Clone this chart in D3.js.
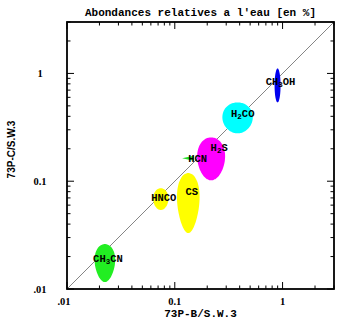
<!DOCTYPE html>
<html><head><meta charset="utf-8">
<script src="https://cdn.jsdelivr.net/npm/d3@7"></script>
<style>body{margin:0;background:#fff}</style>
</head><body>
<script>
// ---- data ----
const species   = ["CH3OH","H2CO","H2S","HCN","CS","HNCO","CH3CN"];
const labels    = [["CH","3","OH"],["H","2","CO"],["H","2","S"],["HCN","",""],["CS","",""],["HNCO","",""],["CH","3","CN"]];
const xLow      = [0.843, 0.272, 0.156, 0.117, 0.100, 0.0625, 0.0174];
const xHigh     = [0.958, 0.538, 0.303, 0.150, 0.178, 0.088, 0.029];
const yLow      = [0.538, 0.278, 0.102, 0.155, 0.033, 0.054, 0.0116];
const yHigh     = [1.11, 0.538, 0.255, 0.172, 0.119, 0.086, 0.0261];
const labelX    = [0.958, 0.427, 0.258, 0.163, 0.144, 0.079, 0.024];
const labelY    = [0.826, 0.417, 0.202, 0.161, 0.079, 0.0697, 0.019];
const colors    = ["#0000ee","#00ffff","#ff00ff","#22dd22","#ffff00","#ffff00","#22ee22"];
const taper     = [0, 0.05, 0.12, 0, 0.22, 0.05, 0.18];
const majorTicks = [0.01, 0.1, 1];
const majorLabels = [".01","0.1","1"];
const domainMin = 0.01, domainMax = 3;
const title = "Abondances relatives a l'eau [en %]";
const xTitle = "73P-B/S.W.3";
const yTitle = "73P-C/S.W.3";

// ---- layout ----
const W = 350, H = 322;
const L = 67, R = 334, T = 22, B = 289;
const svg = d3.select("body").append("svg").attr("width", W).attr("height", H);
const x = d3.scaleLog().domain([domainMin, domainMax]).range([L, R]);
const y = d3.scaleLog().domain([domainMin, domainMax]).range([B, T]);

svg.append("clipPath").attr("id","c").append("rect")
  .attr("x",L).attr("y",T).attr("width",R-L).attr("height",B-T);

// diagonal
svg.append("line").attr("clip-path","url(#c)")
  .attr("x1", x(domainMin)).attr("y1", y(domainMin))
  .attr("x2", x(domainMax)).attr("y2", y(domainMax))
  .attr("stroke","#777").attr("stroke-width",0.9);

// blobs (egg shaped)
const blobs = species.map((s,i)=>({s,i}));
function eggPath(d){
  const i = d.i;
  const x0 = x(xLow[i]), x1 = x(xHigh[i]), y0 = y(yHigh[i]), y1 = y(yLow[i]);
  const cx = (x0+x1)/2, cy = (y0+y1)/2, rx = (x1-x0)/2, ry = (y1-y0)/2;
  const k = taper[i];
  const pts = d3.range(0, 64).map(j=>{
    const t = j/64*2*Math.PI;
    const st = Math.sin(t);
    return [cx + rx*Math.cos(t)*(1 - k*st)/(1+k), cy + ry*st];
  });
  return d3.line().curve(d3.curveCardinalClosed)(pts);
}
svg.append("g").attr("clip-path","url(#c)").selectAll("path").data(blobs.filter(d=>d.s!=="HCN")).join("path")
  .attr("d", eggPath)
  .attr("fill", d=>colors[d.i]);
// HCN wedge
svg.append("g").selectAll("path").data(blobs.filter(d=>d.s==="HCN")).join("path")
  .attr("d", d=>{
    const i=d.i, x0=x(xLow[i]), x1=x(xHigh[i]), y0=y(yHigh[i]), y1=y(yLow[i]);
    const cy=(y0+y1)/2;
    return `M${x0},${cy} L${x1},${y0} L${x1},${y1} Z`;
  }).attr("fill", d=>colors[d.i]);

// labels
const lab = svg.append("g").attr("font-family","'Liberation Mono', monospace")
  .attr("font-weight","bold").attr("font-size",10.5).attr("fill","#000");
blobs.forEach(d=>{
  const i=d.i, parts=labels[i];
  const t = lab.append("text").attr("x", x(labelX[i])).attr("y", y(labelY[i]))
    .attr("text-anchor","middle").attr("dominant-baseline","central");
  t.append("tspan").text(parts[0]);
  if(parts[1]){
    t.append("tspan").attr("font-size",7.5).attr("dy",3).text(parts[1]);
    t.append("tspan").attr("dy",-3).text(parts[2]);
  }
});

// ticks on four sides
const minor = [];
[0.01,0.1,1].forEach(dec=>{ for(let m=2;m<=9;m++){ const v=dec*m; if(v<=domainMax) minor.push(v);} });
const tg = svg.append("g").attr("stroke","#000").attr("stroke-width",1);
function ticks(vals, len){
  vals.forEach(v=>{
    const px = x(v), py = y(v);
    tg.append("line").attr("x1",px).attr("x2",px).attr("y1",B).attr("y2",B-len);
    tg.append("line").attr("x1",px).attr("x2",px).attr("y1",T).attr("y2",T+len);
    tg.append("line").attr("y1",py).attr("y2",py).attr("x1",L).attr("x2",L+len);
    tg.append("line").attr("y1",py).attr("y2",py).attr("x1",R).attr("x2",R-len);
  });
}
ticks(minor, 3.5);
ticks(majorTicks, 7);

// frame
svg.append("rect").attr("x",L).attr("y",T).attr("width",R-L).attr("height",B-T)
  .attr("fill","none").attr("stroke","#000").attr("stroke-width",1.8);

// tick labels
const tl = svg.append("g").attr("font-family","'Liberation Serif', serif")
  .attr("font-weight","bold").attr("font-size",10.5).attr("fill","#000");
majorTicks.forEach((v,i)=>{
  tl.append("text").attr("x", i===0 ? x(v)-3 : x(v)).attr("y", 305)
    .attr("text-anchor","middle").text(majorLabels[i]);
  tl.append("text").attr("x", 40).attr("y", y(v)).attr("dy","0.35em")
    .attr("text-anchor","middle").text(majorLabels[i]);
});

// titles
svg.append("text").attr("x",(L+R)/2).attr("y",16).attr("text-anchor","middle")
  .attr("font-family","'Liberation Mono', monospace").attr("font-weight","bold")
  .attr("font-size",11).text(title);
svg.append("text").attr("x",(L+R)/2).attr("y",317).attr("text-anchor","middle")
  .attr("font-family","'Liberation Mono', monospace").attr("font-weight","bold")
  .attr("font-size",11).text(xTitle);
svg.append("text").attr("transform",`translate(15,${(T+B)/2 - 6}) rotate(-90)`)
  .attr("text-anchor","middle")
  .attr("font-family","'Liberation Sans', sans-serif").attr("font-weight","bold")
  .attr("font-size",10).text(yTitle);
</script>
</body></html>
